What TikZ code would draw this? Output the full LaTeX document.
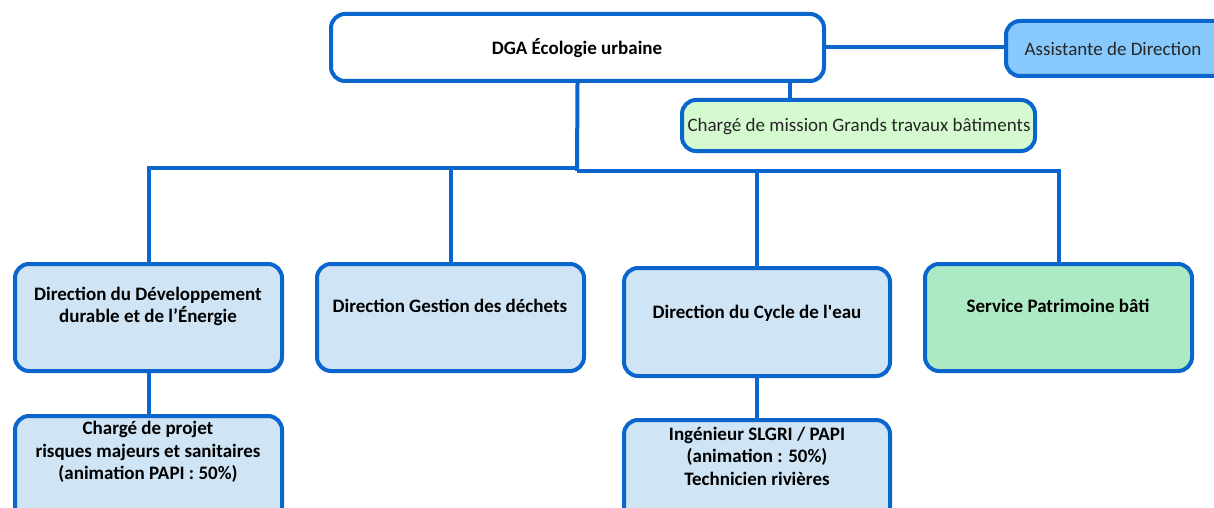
\documentclass[tikz,border=0pt]{standalone}
\usepackage{fontspec}
\setmainfont{Carlito}[Ligatures=TeXOff]
\definecolor{lineblue}{RGB}{10,102,204}
\definecolor{assistfill}{RGB}{135,201,252}
\definecolor{missionfill}{RGB}{213,250,208}
\definecolor{dirfill}{RGB}{207,228,244}
\definecolor{greenfill}{RGB}{172,234,196}
\begin{document}
\begin{tikzpicture}[x=1pt,y=-1pt,
  box/.style={draw=lineblue,line width=4pt,rounded corners=14pt,inner sep=0pt},
  conn/.style={draw=lineblue,line width=4pt},
  lbl/.style={align=center,font=\fontsize{19}{22.5}\selectfont\bfseries,inner sep=0pt},
  lblr/.style={align=center,font=\fontsize{19}{22.5}\selectfont,inner sep=0pt,text=black!85}]
\clip (0,0) rectangle (1214,508);
\fill[white] (0,0) rectangle (1214,508);
% boxes
\node[box,fill=white,minimum width=493pt,minimum height=67pt] (dga) at (577.5,47.5) {};
\node[box,fill=assistfill,minimum width=240pt,minimum height=55pt] (as) at (1126,48.5) {};
\node[box,fill=missionfill,minimum width=353pt,minimum height=51pt] (mis) at (858.5,125.5) {};
\node[box,fill=dirfill,minimum width=267pt,minimum height=107pt] (b1) at (148.5,317.5) {};
\node[box,fill=dirfill,minimum width=267pt,minimum height=107pt] (b2) at (450.5,317.5) {};
\node[box,fill=dirfill,minimum width=266pt,minimum height=108pt] (b3) at (757,322) {};
\node[box,fill=greenfill,minimum width=267pt,minimum height=107pt] (b4) at (1058.5,317.5) {};
\node[box,fill=dirfill,minimum width=267pt,minimum height=114pt] (b5) at (148.5,473) {};
\node[box,fill=dirfill,minimum width=266pt,minimum height=110pt] (b6) at (757,475) {};
% texts
\node[lbl] (tdga) at (577,48) {DGA Écologie urbaine};
\node[lblr] (tas) at (1113,48.5) {Assistante de Direction};
\node[lblr] (tmis) at (859,127) {Chargé de mission Grands travaux bâtiments};
\node[lbl] (t1) at (148,306.5) {Direction du Développement\\durable et de l’Énergie};
\node[lbl] (t2) at (450,306) {Direction Gestion des déchets};
\node[lbl] (t3) at (757,313) {Direction du Cycle de l'eau};
\node[lbl] (t4) at (1058,306) {Service Patrimoine bâti};
\node[lbl] (t5) at (148,452) {Chargé de projet\\risques majeurs et sanitaires\\(animation PAPI : 50\%)};
\node[lbl] (t6) at (757,456) {Ingénieur SLGRI / PAPI\\(animation : 50\%)\\Technicien rivières};
% connectors
\coordinate (busl) at (577,168);
\coordinate (busr) at (577,171);
\coordinate (mx) at (790,0);
\draw[conn] (dga.south) -- (busr);
\draw[conn] (busl) -| (b1.north);
\draw[conn] (busl) -| (b2.north);
\draw[conn] (busr) -| (b3.north);
\draw[conn] (busr) -| (b4.north);
\draw[conn] (dga.south -| mx) -- (mis.north -| mx);
\draw[conn] (dga.east) -- (dga.east -| as.west);
\draw[conn] (b1.south) -- (b5.north);
\draw[conn] (b3.south) -- (b6.north);
\end{tikzpicture}
\end{document}
